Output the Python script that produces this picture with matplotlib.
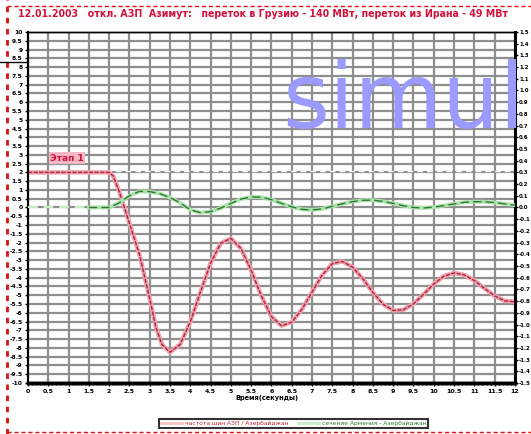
import matplotlib
matplotlib.use("Agg")
import matplotlib.pyplot as plt
from matplotlib.lines import Line2D
import numpy as np

# Данные
t_red = [0, 2.0, 2.1, 2.25, 2.5, 2.75, 3.0, 3.15, 3.3, 3.5, 3.75, 4.0, 4.25, 4.5, 4.75,
         5.0, 5.25, 5.5, 5.75, 6.0, 6.25, 6.5, 6.75, 7.0, 7.25, 7.5, 7.75, 8.0, 8.25,
         8.5, 8.75, 9.0, 9.25, 9.5, 9.75, 10.0, 10.25, 10.5, 10.75, 11.0, 11.25, 11.5,
         11.75, 12.0]
red_vals = [2.0, 2.0, 1.8, 0.9, -0.9, -2.7, -5.2, -6.8, -7.8, -8.25, -7.8, -6.51,
            -4.82, -3.17, -2.04, -1.76, -2.34, -3.58, -5.03, -6.22, -6.74, -6.53, -5.81,
            -4.82, -3.85, -3.20, -3.07, -3.40, -4.05, -4.84, -5.51, -5.87, -5.83, -5.49,
            -4.94, -4.36, -3.91, -3.73, -3.84, -4.16, -4.61, -5.04, -5.32, -5.37]

t_green = [1.5, 2.0, 2.25, 2.5, 2.75, 3.0, 3.25, 3.5, 3.75, 4.0, 4.25, 4.5, 4.75, 5.0,
           5.25, 5.5, 5.75, 6.0, 6.25, 6.5, 6.75, 7.0, 7.25, 7.5, 7.75, 8.0, 8.25, 8.5,
           8.75, 9.0, 9.25, 9.5, 9.75, 10.0, 10.25, 10.5, 10.75, 11.0, 11.25, 11.5,
           11.75, 12.0]
green_vals = [0, 0, 0.04, 0.10, 0.138, 0.136, 0.118, 0.085, 0.040, -0.02, -0.044, -0.035,
              -0.005, 0.035, 0.072, 0.090, 0.088, 0.067, 0.035, 0.005, -0.016, -0.021,
              -0.012, 0.01, 0.032, 0.05, 0.062, 0.063, 0.052, 0.035, 0.015, 0.0, -0.004,
              0.003, 0.016, 0.031, 0.044, 0.05, 0.049, 0.042, 0.031, 0.02]
t_green_pre = [0, 1.5]
green_pre = [0, 0]

title = "12.01.2003   откл. АЗП  Азимут:   переток в Грузию - 140 МВт, переток из Ирана - 49 МВт"
name_red = "частота шин АЗП / Азербайджан"
name_green = "сечение Армения - Азербайджан"

fig = plt.figure(figsize=(5.31, 4.34), dpi=100)
ax = fig.add_axes([0.0527, 0.1175, 0.917, 0.8088])
ax2 = ax.twinx()

# сетка
ax.set_xlim(0, 12)
ax.set_ylim(-10, 10)
ax2.set_ylim(-1.5, 1.5)
ax.set_xticks(np.arange(0, 12.01, 0.5))
ax.set_xticks(np.arange(0, 12.01, 0.1), minor=True)
ax.set_yticks(np.arange(-10, 10.01, 0.5))
ax2.set_yticks(np.arange(-1.5, 1.51, 0.1))
ax.grid(True, which="major", color="#8e8e8e", lw=1.6)
ax.set_axisbelow(True)

ax.set_xticklabels(["%g" % v for v in np.arange(0, 12.01, 0.5)], fontsize=4.5, fontweight="bold")
ax.set_yticklabels(["%g" % v for v in np.arange(-10, 10.01, 0.5)], fontsize=4.3, fontweight="bold")
ax2.set_yticklabels(["%.1f" % v for v in np.arange(-1.5, 1.51, 0.1)], fontsize=3.9, fontweight="bold")
ax.tick_params(axis="both", which="major", length=2.5, width=1, pad=1.5)
ax.tick_params(axis="x", which="minor", length=1.5, width=1)
ax2.tick_params(axis="y", length=2, width=1, pad=1)

for a in (ax, ax2):
    a.spines["bottom"].set_linewidth(2.5)
    a.spines["left"].set_linewidth(1.5)
    a.spines["right"].set_linewidth(2)
    a.spines["top"].set_linewidth(1)

ax.axhline(2.1, color="white", lw=1, ls=(0, (4, 3)), zorder=1.5)

# линии
ax.plot(t_red, red_vals, color="#eba4ae", lw=3.2, solid_capstyle="round", zorder=3)
ax.plot(t_red, red_vals, color="#b3223f", lw=1.0, ls=(0, (3, 1)), zorder=4)
ax2.plot(t_green_pre, green_pre, color="#c8efc8", lw=1.4, ls=(0, (5, 3)), zorder=3)
ax2.plot(t_green, green_vals, color="#ace2ac", lw=2.8, zorder=3)
ax2.plot(t_green, green_vals, color="#2e7a33", lw=1.0, ls=(0, (6, 3)), zorder=4)

ax.text(0.96, 2.82, "Этап 1", color="#d0103a", fontsize=6.5, fontweight="bold",
        ha="center", va="center",
        bbox=dict(boxstyle="square,pad=0.15", facecolor="#f4b8c4", edgecolor="none"))

fig.text(0.034, 0.968, title, color="#d4103a", fontsize=6.85, fontweight="bold", va="center")
fig.text(0.503, 0.083, "Время(секунды)", fontsize=4.8, fontweight="bold", ha="center", va="center")

# водяной знак
fig.text(0.531, 0.705, "simul", fontsize=65, color="#9a9aff", va="baseline", zorder=10)

# легенда
h1 = Line2D([], [], color="#f5c4ca", lw=2)
h2 = Line2D([], [], color="#c8eec8", lw=2)
leg = fig.legend([h1, h2], [name_red, name_green], loc="center", bbox_to_anchor=(0.553, 0.025),
                 ncol=2, fontsize=4.3, frameon=True, fancybox=False, handlelength=3.5,
                 borderpad=0.3, columnspacing=1.5, handletextpad=0.6)
leg.get_frame().set_edgecolor("black")
leg.get_frame().set_linewidth(1.5)
leg.get_texts()[0].set_color("#c0203a")
leg.get_texts()[1].set_color("#2a7a2a")

# рамка и прочие линии
fig.add_artist(Line2D([0.013, 0.013], [0.0, 1.0], color="#dd1111", lw=2, ls=(0, (2, 2))))
fig.add_artist(Line2D([0.013, 1.0], [0.986, 0.986], color="#dd1111", lw=1, ls=(0, (3, 2))))
fig.add_artist(Line2D([0.013, 1.0], [0.004, 0.004], color="#dd1111", lw=1, ls=(0, (3, 2))))
fig.add_artist(Line2D([0.0, 0.053], [0.857, 0.857], color="black", lw=1))

fig.savefig("out.png", dpi=100)
